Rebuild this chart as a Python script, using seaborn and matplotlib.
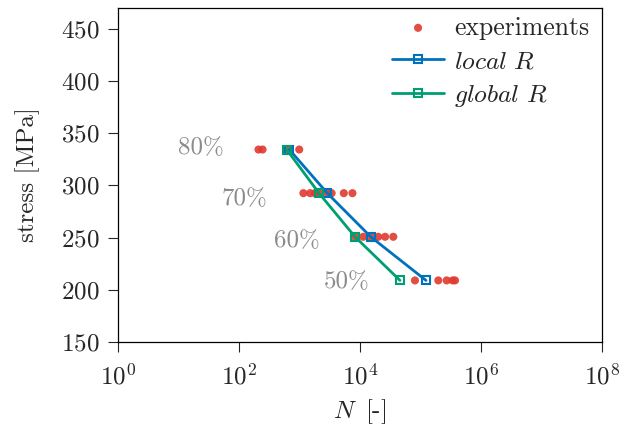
import numpy as np
import pandas as pd
import seaborn as sns
import matplotlib.pyplot as plt

# stress levels (fraction of ~418 MPa)
levels = ["80%", "70%", "60%", "50%"]
stress = [334.4, 292.6, 250.8, 209.0]

# experiments, cycles to failure per level
exp_N = [
    [210, 245, 650, 990],
    [1160, 1500, 1800, 2100, 2900, 3400, 5400, 7500],
    [8300, 11300, 15000, 20000, 26000, 35500],
    [81000, 197000, 271000, 340000, 372000],
]

# model predictions
local_N = [678, 2880, 15030, 123300]
global_N = [614, 2100, 8270, 45800]

# where the level labels sit (right edge, in N)
label_N = [56, 290, 2180, 14600]
label_y = [336, 287, 247, 207]

rows = []
for s, ns in zip(stress, exp_N):
    for n in ns:
        rows.append({"N": n, "stress": s})
exp_df = pd.DataFrame(rows)

model_df = pd.concat([
    pd.DataFrame({"N": local_N, "stress": stress, "model": "$local\\ R$"}),
    pd.DataFrame({"N": global_N, "stress": stress, "model": "$global\\ R$"}),
])

sns.set_style("ticks")
plt.rcParams["font.family"] = "serif"
plt.rcParams["font.serif"] = ["cmr10"]
plt.rcParams["mathtext.fontset"] = "cm"
plt.rcParams["axes.formatter.use_mathtext"] = True
plt.rcParams["axes.unicode_minus"] = False

fig = plt.figure(figsize=(6.35, 4.33), dpi=100)
ax = fig.add_axes([118 / 635, 1 - 342 / 433, 484 / 635, 334 / 433])

sns.scatterplot(x="N", y="stress", data=exp_df, ax=ax, color="#e0392f", s=34,
                alpha=0.9, edgecolor="none", label="experiments", zorder=2)

sns.lineplot(x="N", y="stress", hue="model", data=model_df, ax=ax,
             palette=["#0072bd", "#009e73"], marker="s", markersize=5.8,
             markerfacecolor="none", markeredgewidth=1.5, linewidth=2,
             sort=False, estimator=None, zorder=3)
for line in ax.lines:
    line.set_markeredgecolor(line.get_color())

for lab, x, y in zip(levels, label_N, label_y):
    ax.text(x, y, lab, ha="right", va="center", color="#8c8c8c", fontsize=18)

ax.set_xscale("log")
ax.set_xlim(1, 1e8)
ax.set_ylim(150, 470)
ax.set_xticks([1e0, 1e2, 1e4, 1e6, 1e8])
ax.minorticks_off()
ax.set_yticks(np.arange(150, 451, 50))
ax.tick_params(labelsize=18, length=7.5, width=0.8, direction="out")
ax.tick_params(axis="x", pad=8)
ax.tick_params(axis="y", pad=6)
ax.set_xlabel("$N\\,$ [-]", fontsize=18, labelpad=6)
ax.set_ylabel("stress [MPa]", fontsize=18, labelpad=15)
for sp in ax.spines.values():
    sp.set_linewidth(0.9)
    sp.set_color("black")

h, l = ax.get_legend_handles_labels()
ax.legend(h, l, loc="upper right", bbox_to_anchor=(1, 1.015), frameon=False,
          fontsize=18.5, handlelength=2.0, borderaxespad=0.1,
          labelspacing=0.38, handletextpad=0.4)

fig.savefig("out.png", dpi=100)
